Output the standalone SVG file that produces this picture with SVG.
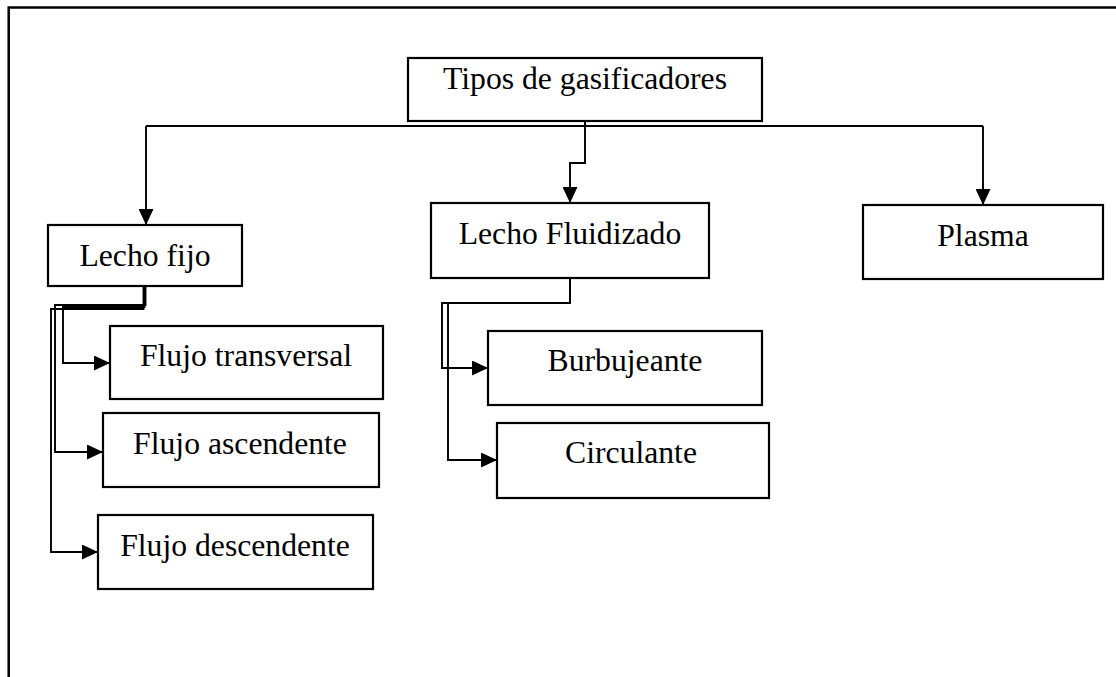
<svg xmlns="http://www.w3.org/2000/svg" width="1116" height="677" viewBox="0 0 1116 677">
<style>
.box{fill:#fff;stroke:#000;stroke-width:2.2}
.lbl{font-family:"Liberation Serif","Times New Roman",serif;font-size:31.7px;fill:#000;text-anchor:middle}
.con{fill:none;stroke:#000;stroke-width:1.9}
.frame{fill:none;stroke:#000;stroke-width:2.5}
</style>
<defs>
<marker id="a" viewBox="0 0 16 15" refX="16" refY="7.5" markerWidth="16" markerHeight="15" orient="auto" markerUnits="userSpaceOnUse">
<path d="M0,0 L16,7.5 L0,15 Z" fill="#000"/>
</marker>
</defs>
<rect width="1116" height="677" fill="#fff"/>
<path class="frame" d="M8.7,677 V7.5 H1116"/>
<g id="connectors">
<path class="con" d="M585,121 V126"/>
<path class="con" d="M146,126 H983"/>
<path class="con" d="M146,126 V225" marker-end="url(#a)"/>
<path class="con" d="M983,126 V205" marker-end="url(#a)"/>
<path class="con" d="M585,121 V163 H570 V203" marker-end="url(#a)"/>
<path class="con" d="M145.5,286 V305 H55 V452 H103" marker-end="url(#a)"/>
<path class="con" d="M144.5,286 V307 H63 V363 H110" marker-end="url(#a)"/>
<path class="con" d="M143.5,286 V309 H51 V552 H98" marker-end="url(#a)"/>
<path class="con" d="M570,278 V303 H442 V368 H488" marker-end="url(#a)"/>
<path class="con" d="M570,278 V303 H448 V460 H497" marker-end="url(#a)"/>
</g>
<g id="n-tipos"><rect class="box" x="408" y="58" width="354" height="63"/><text class="lbl" x="585" y="89">Tipos de gasificadores</text></g>
<g id="n-lechofijo"><rect class="box" x="48" y="225" width="194" height="61"/><text class="lbl" x="145" y="266">Lecho fijo</text></g>
<g id="n-fluidizado"><rect class="box" x="431" y="203" width="278" height="75"/><text class="lbl" x="570" y="244">Lecho Fluidizado</text></g>
<g id="n-plasma"><rect class="box" x="863" y="205" width="240" height="74"/><text class="lbl" x="983" y="246">Plasma</text></g>
<g id="n-transversal"><rect class="box" x="110" y="326" width="273" height="73"/><text class="lbl" x="246" y="366">Flujo transversal</text></g>
<g id="n-ascendente"><rect class="box" x="103" y="413" width="276" height="74"/><text class="lbl" x="240" y="454">Flujo ascendente</text></g>
<g id="n-descendente"><rect class="box" x="98" y="515" width="275" height="74"/><text class="lbl" x="235" y="556">Flujo descendente</text></g>
<g id="n-burbujeante"><rect class="box" x="488" y="331" width="274" height="74"/><text class="lbl" x="625" y="371">Burbujeante</text></g>
<g id="n-circulante"><rect class="box" x="497" y="423" width="272" height="75"/><text class="lbl" x="631" y="463">Circulante</text></g>
</svg>
